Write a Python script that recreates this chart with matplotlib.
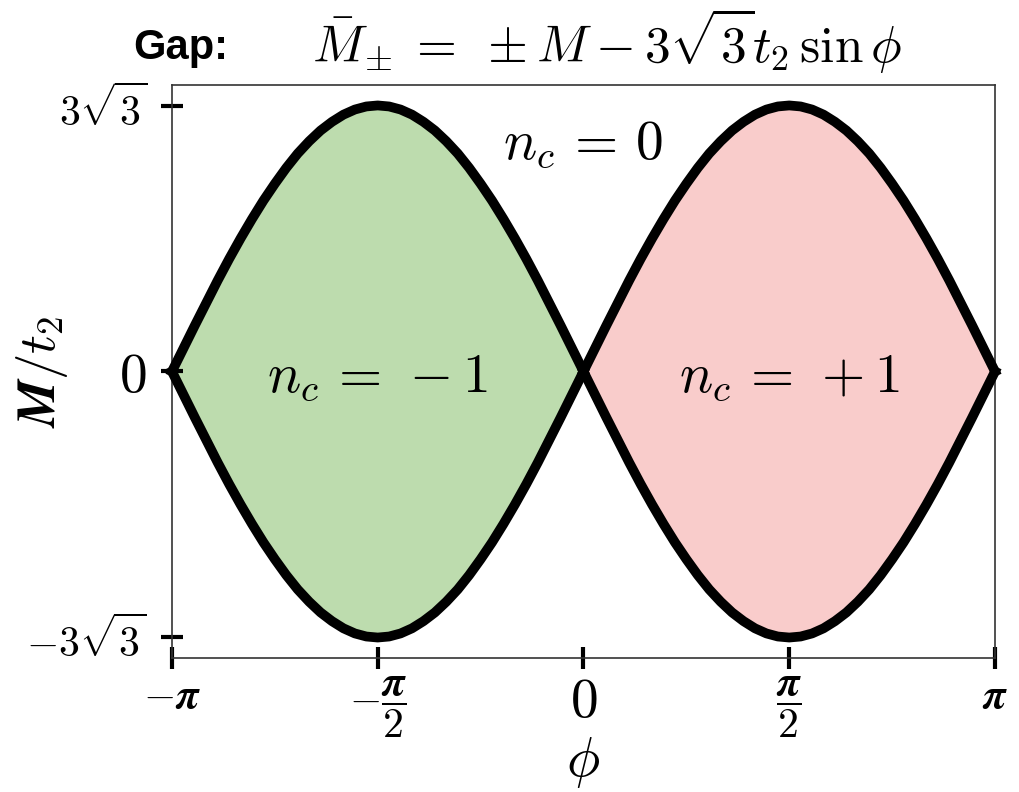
import numpy as np
import matplotlib
matplotlib.use("Agg")
import matplotlib.pyplot as plt

plt.rcParams['mathtext.fontset'] = 'cm'

# phase boundary: phi in degrees (0..180), M/t2 of the upper branch
phi_deg = [0, 5, 10, 15, 20, 25, 30, 35, 40, 45, 50, 55, 60, 65, 70, 75, 80, 85, 90,
           95, 100, 105, 110, 115, 120, 125, 130, 135, 140, 145, 150, 155, 160, 165, 170, 175, 180]
m_upper = [0.0, 0.45, 0.90, 1.34, 1.78, 2.20, 2.60, 2.98, 3.34, 3.67, 3.98, 4.26, 4.50,
           4.71, 4.88, 5.02, 5.12, 5.18, 5.20, 5.18, 5.12, 5.02, 4.88, 4.71, 4.50, 4.26,
           3.98, 3.67, 3.34, 2.98, 2.60, 2.20, 1.78, 1.34, 0.90, 0.45, 0.0]

xtick_vals = [-np.pi, -np.pi / 2, 0, np.pi / 2, np.pi]
xtick_labels = [r'$\mathbf{-}\boldsymbol{\pi}$', r'$\mathbf{-}\dfrac{\boldsymbol{\pi}}{\mathbf{2}}$', r'$0$',
                r'$\dfrac{\boldsymbol{\pi}}{\mathbf{2}}$', r'$\boldsymbol{\pi}$']
ytick_vals = [-3 * np.sqrt(3), 0, 3 * np.sqrt(3)]
ytick_labels = [r'$\mathbf{-3\sqrt{3}}$', r'$0$', r'$\mathbf{3\sqrt{3}}$']

region_labels = [r'$n_c\,=\,0$', r'$n_c\,=\,-1$', r'$n_c\,=\,+1$']
region_pos = [(0.0, 4.45), (-np.pi / 2, -0.1), (np.pi / 2, -0.1)]

phi = np.radians(phi_deg)
up = np.array(m_upper)

fig = plt.figure(figsize=(10.2, 7.92), dpi=100)
ax = fig.add_axes([0.1686, 0.1692, 0.8069, 0.7235])

# right half (0..pi) and its mirror (-pi..0)
ax.fill_between(-phi, -up, up, color='#bddcae', lw=0)
ax.fill_between(phi, -up, up, color='#f9cccb', lw=0)
for sgn in (1, -1):
    ax.plot(phi, sgn * up, color='black', lw=7, clip_on=False, zorder=5, solid_joinstyle='round')
    ax.plot(-phi, sgn * up, color='black', lw=7, clip_on=False, zorder=5, solid_joinstyle='round')

ax.set_xlim(-np.pi, np.pi)
ax.set_ylim(-5.6, 5.6)
ax.set_xticks(xtick_vals)
ax.set_xticklabels(xtick_labels)
ax.set_yticks(ytick_vals)
ax.set_yticklabels(ytick_labels)
ax.tick_params(direction='inout', length=16, width=3, labelsize=30, pad=4)
ax.tick_params(axis='y', pad=10)
ax.get_xticklabels()[2].set_fontsize(40)
ax.get_yticklabels()[1].set_fontsize(40)
for s in ax.spines.values():
    s.set_linewidth(1.2)
    s.set_color('#333333')

for lab, (x, y) in zip(region_labels, region_pos):
    ax.text(x, y, lab, fontsize=40, ha='center', va='center', zorder=6)

ax.set_xlabel(r'$\phi$', fontsize=40, labelpad=0)
ax.xaxis.set_label_coords(0.5, -0.135)
ax.set_ylabel(r'$\boldsymbol{M/t_2}$', fontsize=38)
ax.yaxis.set_label_coords(-0.124, 0.5)

fig.text(0.177, 0.94, 'Gap:', fontsize=30, fontweight='bold', family='Liberation Sans',
         ha='center', va='center')
fig.text(0.595, 0.948, r'$\bar{M}_{\pm}\; =\; \pm M - 3\sqrt{3}t_2\,\sin\phi$', fontsize=37,
         ha='center', va='center')

fig.savefig('out.png', dpi=100)
